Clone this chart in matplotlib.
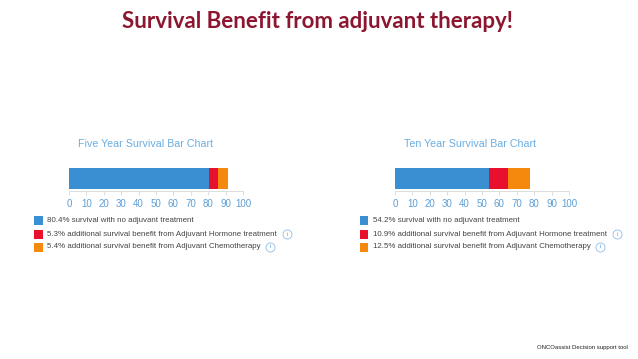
import matplotlib
matplotlib.use("Agg")
import matplotlib.pyplot as plt
from matplotlib.patches import Rectangle

# dados
five_year = [80.4, 5.3, 5.4]
ten_year = [54.2, 10.9, 12.5]
legend_texts = ["survival with no adjuvant treatment",
                "additional survival benefit from Adjuvant Hormone treatment",
                "additional survival benefit from Adjuvant Chemotherapy"]
chart_titles = ["Five Year Survival Bar Chart", "Ten Year Survival Bar Chart"]
ticks = [0, 10, 20, 30, 40, 50, 60, 70, 80, 90, 100]

colors = ["#3a8fd3", "#e8102c", "#f4890e"]
tick_blue = "#5d9fd6"
title_blue = "#6aaee2"

W, H = 638, 359
fig = plt.figure(figsize=(W / 100, H / 100), dpi=100)
fig.patch.set_facecolor("white")

def px(x, y):
    return x / W, 1 - y / H

fig.text(*px(318, 22), "Survival Benefit from adjuvant therapy!", ha="center", va="center",
         fontsize=16, fontweight="bold", color="#8c1630", family="Lato")
fig.text(*px(628, 348), "ONCOassist Decision support tool", ha="right", va="center",
         fontsize=4.3, color="#222222", family="Liberation Sans")

panels = [(69, 34, 47, 287, 270, five_year), (395, 360, 373, 617, 600, ten_year)]

for i, (x0, sq, tx, icon1, icon2, vals) in enumerate(panels):
    l, b = px(x0, 191)
    ax = fig.add_axes([l, b, 174 / W, 25 / H])
    left = 0
    for v, c in zip(vals, colors):
        ax.barh(0, v, left=left, height=0.92, color=c, align="edge")
        left += v
    ax.set_xlim(0, 100)
    ax.set_ylim(-0.08, 1.0)
    ax.set_yticks([])
    ax.set_xticks(ticks)
    ax.set_xticklabels([str(t) for t in ticks], fontsize=7, color=tick_blue, family="Liberation Sans")
    ax.tick_params(axis="x", length=3, width=0.6, color="#d8d8d8", pad=3)
    for s in ["top", "left", "right"]:
        ax.spines[s].set_visible(False)
    ax.spines["bottom"].set_color("#d8d8d8")
    ax.spines["bottom"].set_linewidth(0.6)
    ax.set_title(chart_titles[i], fontsize=7.7, color=title_blue, family="Liberation Sans",
                 pad=14, loc="left" if i == 0 else "center",
                 x=0.05 if i == 0 else 0.43)

    # legenda
    for j, (v, txt, c) in enumerate(zip(vals, legend_texts, colors)):
        yc = 221 + 13 * j
        rx, ry = px(sq, yc + 4.5)
        fig.patches.append(Rectangle((rx, ry), 8.5 / W, 9 / H, transform=fig.transFigure,
                                     facecolor=c, edgecolor="none"))
        fig.text(*px(tx, yc), f"{v}% {txt}", ha="left", va="center", fontsize=5.65,
                 color="#444444", family="Liberation Sans")
        if j > 0:
            ix = icon1 if j == 1 else icon2
            fig.text(*px(ix, yc), "i", ha="center", va="center", fontsize=4.5,
                     color=tick_blue, family="Liberation Sans")
            fig.add_artist(plt.Line2D([ix / W], [1 - yc / H], marker="o", markersize=6.5,
                                      markerfacecolor="none", markeredgecolor="#8fbde6",
                                      markeredgewidth=0.6, transform=fig.transFigure))

fig.savefig("out.png", dpi=100)
